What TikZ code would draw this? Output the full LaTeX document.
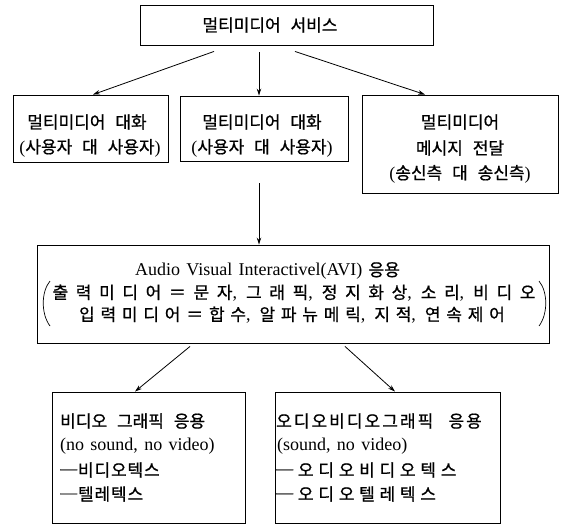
\documentclass[tikz,border=0pt]{standalone}
\usepackage{fontspec}
\setmainfont{Liberation Serif}[WordSpace=1.4]
\newfontfamily\kr{Noto Sans CJK KR}[WordSpace=2.6,FakeBold=0.8]
\usetikzlibrary{arrows.meta}
\newcommand\ko[2][0]{{\kr\fontsize{17}{18}\selectfont\addfontfeature{LetterSpace=#1}#2}}
\newcommand\lat{\fontsize{18}{22}\selectfont}
\newcommand\cma{{\normalfont\lat,}\hspace{9pt}}
\begin{document}
\begin{tikzpicture}[x=1pt,y=-1pt,
  box/.style={draw, line width=0.9pt, inner sep=0pt},
  arr/.style={line width=0.8pt, -{Stealth[length=7pt,width=4.5pt]}},
  lbl/.style={inner sep=0pt, font=\lat},
  lft/.style={inner sep=0pt, font=\lat, anchor=west}]
\useasboundingbox (0,0) rectangle (575,524);
% boxes
\node[box, minimum width=293pt, minimum height=40pt] (top) at (286.5,25) {};
\node[box, minimum width=155pt, minimum height=67pt] (L2) at (90.5,128.5) {};
\node[box, minimum width=168pt, minimum height=65pt] (M2) at (264,128.5) {};
\node[box, minimum width=196pt, minimum height=98pt] (R2) at (460,144) {};
\node[box, minimum width=512pt, minimum height=98pt] (AVI) at (293,294) {};
\node[box, minimum width=193pt, minimum height=131pt] (BL) at (148.5,457.5) {};
\node[box, minimum width=225pt, minimum height=131pt] (BR) at (387.5,457.5) {};
% texts
\node[lbl] (topt) at (270,25) {\ko{멀티미디어 서비스}};
\node[lbl] (L2a) at (87,122) {\ko{멀티미디어 대화}};
\node[lbl] (L2b) at (90,148) {(\ko{사용자 대 사용자})};
\node[lbl] (M2a) at (262,122) {\ko{멀티미디어 대화}};
\node[lbl] (M2b) at (262,148) {(\ko{사용자 대 사용자})};
\node[lbl] (R2a) at (460,122) {\ko{멀티미디어}};
\node[lbl] (R2b) at (460,148) {\ko{메시지 전달}};
\node[lbl] (R2c) at (460,174) {(\ko{송신측 대 송신측})};
\node[lft] (AVIa) at (135,271) {Audio Visual Interactivel(AVI) \ko{응용}};
\node[lbl] (AVIb) at (294,293) {\ko[45]{출력미디어＝문자}\cma\ko[45]{그래픽}\cma\ko[45]{정지화상}\cma\ko[45]{소리}\cma\ko[45]{비디오}};
\node[lbl] (AVIc) at (292,315) {\ko[34]{입력미디어＝합수}\cma\ko[34]{알파뉴메릭}\cma\ko[34]{지적}\cma\ko[34]{연속제어}};
\draw[line width=0.7pt] (50,281) .. controls (41,292) and (41,314) .. (50,326);
\draw[line width=0.7pt] (539,281) .. controls (548,292) and (548,314) .. (539,326);
\node[lft] (BLa) at (60,421) {\ko{비디오 그래픽 응용}};
\node[lft] (BLb) at (60,446) {(no sound, no video)};
\node[lft] (BLc) at (60,470) {\ko[5]{─비디오텍스}};
\node[lft] (BLd) at (60,494) {\ko[5]{─텔레텍스}};
\node[lft] (BRa) at (276,421) {\ko[12]{오디오비디오그래픽 응용}};
\node[lft] (BRb) at (277,446) {(sound, no video)};
\node[lft] (BRc) at (276,470) {\ko[28]{─오디오비디오텍스}};
\node[lft] (BRd) at (276,494) {\ko[28]{─오디오텔레텍스}};
% connectors
\draw[arr] ([xshift=-72.5pt,yshift=-6pt]top.south) -- ([xshift=2.5pt]L2.north);
\draw[arr] ([xshift=-27.5pt,yshift=-7pt]top.south) -- ([xshift=-5pt]M2.north);
\draw[arr] ([xshift=8.5pt,yshift=-6pt]top.south) -- ([xshift=-35pt]R2.north);
\draw[arr] ([xshift=-5pt,yshift=-22pt]M2.south) -- ([xshift=-34pt]AVI.north);
\draw[arr] ([xshift=-103pt,yshift=-3pt]AVI.south) -- ([xshift=-13.5pt]BL.north);
\draw[arr] ([xshift=52pt,yshift=-3pt]AVI.south) -- ([xshift=7.5pt]BR.north);
\end{tikzpicture}
\end{document}
